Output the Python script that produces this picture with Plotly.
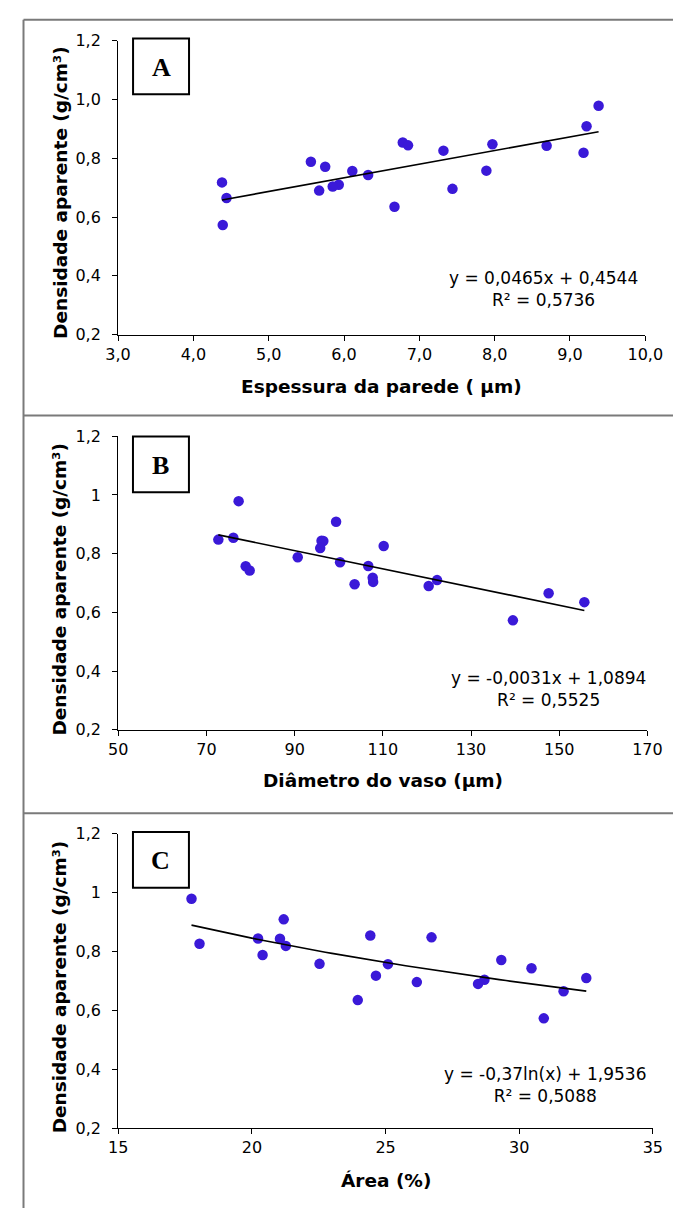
import numpy as np
import plotly.graph_objects as go

W, H = 691, 1218

# ---- data (one entry per sample; same samples in all three panels) ----
density = [0.979, 0.909, 0.854, 0.848, 0.844, 0.843, 0.826, 0.819, 0.788, 0.771, 0.758,
           0.757, 0.743, 0.718, 0.710, 0.704, 0.696, 0.690, 0.665, 0.635, 0.573]
wall_thickness = [9.38, 9.22, 6.78, 7.97, 6.85, 8.69, 7.32, 9.18, 5.56, 5.75, 7.89,
                  6.11, 6.32, 4.38, 5.93, 5.85, 7.44, 5.67, 4.44, 6.67, 4.39]
vessel_diameter = [77.3, 99.4, 76.1, 72.7, 96.1, 96.5, 110.2, 95.8, 90.7, 100.3, 106.7,
                   78.9, 79.8, 107.7, 122.3, 107.8, 103.6, 120.4, 147.6, 155.7, 139.5]
vessel_area = [17.74, 21.19, 24.43, 26.72, 20.23, 21.05, 18.04, 21.27, 20.40, 29.33, 22.53,
               25.09, 30.46, 24.64, 32.51, 28.70, 26.17, 28.46, 31.66, 23.96, 30.92]

# trendline coefficients as printed on the chart
fit_a = (0.0465, 0.4544)      # linear
fit_b = (-0.0031, 1.0894)     # linear
fit_c = (-0.37, 1.9536)       # logarithmic

eq_a = "y = 0,0465x + 0,4544<br>R² = 0,5736"
eq_b = "y = -0,0031x + 1,0894<br>R² = 0,5525"
eq_c = "y = -0,37ln(x) + 1,9536<br>R² = 0,5088"

y_vals = [0.2, 0.4, 0.6, 0.8, 1.0, 1.2]
y_text_a = ["0,2", "0,4", "0,6", "0,8", "1,0", "1,2"]
y_text_bc = ["0,2", "0,4", "0,6", "0,8", "1", "1,2"]
x_vals_a = [3, 4, 5, 6, 7, 8, 9, 10]
x_text_a = ["3,0", "4,0", "5,0", "6,0", "7,0", "8,0", "9,0", "10,0"]
x_vals_b = [50, 70, 90, 110, 130, 150, 170]
x_vals_c = [15, 20, 25, 30, 35]

x_title_a = "Espessura da parede ( µm)"
x_title_b = "Diâmetro do vaso (µm)"
x_title_c = "Área (%)"
y_title = "Densidade aparente (g/cm³)"
panel_labels = ["A", "B", "C"]

# ---- styling ----
PT_COLOR = "#3A19D8"
TICK_FONT = dict(family="DejaVu Sans", size=16, color="black")
TITLE_FONT = dict(family="DejaVu Sans", size=18.5, color="black")
EQ_FONT = dict(family="DejaVu Sans", size=17, color="black")


def fx(px):
    return px / W


def fy(py):
    return 1 - py / H


fig = go.Figure()

panels = [
    dict(x=wall_thickness, fit=fit_a, kind="lin", xr=[3, 10], xt=x_vals_a, xtt=x_text_a,
         ytt=y_text_a, xdom=(110, 662), ydom=(330.7, 32.3), eq=eq_a, eqpos=(555, 284),
         xtitle=x_title_a, xtpos=(386, 383), ytpos=(49, 186), box=(125.7, 30, 184.3, 86.7)),
    dict(x=vessel_diameter, fit=fit_b, kind="lin", xr=[50, 170], xt=x_vals_b,
         xtt=[str(v) for v in x_vals_b], ytt=y_text_bc, xdom=(110.2, 664.2), ydom=(732.3, 434),
         eq=eq_b, eqpos=(561, 691), xtitle=x_title_b, xtpos=(387, 784), ytpos=(49, 589),
         box=(125.6, 434.3, 184.2, 491)),
    dict(x=vessel_area, fit=fit_c, kind="log", xr=[15, 35], xt=x_vals_c,
         xtt=[str(v) for v in x_vals_c], ytt=y_text_bc, xdom=(110.2, 669.9), ydom=(1137, 837.7),
         eq=eq_c, eqpos=(557, 1093), xtitle=x_title_c, xtpos=(390, 1190), ytpos=(49, 993),
         box=(125.6, 836, 184.2, 892.7)),
]

annotations = []
shapes = []

for i, p in enumerate(panels):
    n = "" if i == 0 else str(i + 1)
    xa, ya = "x" + n, "y" + n
    fig.add_trace(go.Scatter(x=p["x"], y=density, mode="markers", xaxis=xa, yaxis=ya,
                             marker=dict(color=PT_COLOR, size=10.5, line=dict(width=0)),
                             showlegend=False, hoverinfo="x+y"))
    xmin, xmax = min(p["x"]), max(p["x"])
    a, b = p["fit"]
    if p["kind"] == "lin":
        tx = np.array([xmin, xmax])
        ty = a * tx + b
    else:
        tx = np.linspace(xmin, xmax, 60)
        ty = a * np.log(tx) + b
    fig.add_trace(go.Scatter(x=tx, y=ty, mode="lines", xaxis=xa, yaxis=ya,
                             line=dict(color="black", width=1.6), showlegend=False,
                             hoverinfo="skip"))

    common = dict(showgrid=False, zeroline=False, showline=True, linecolor="black",
                  linewidth=1, ticks="outside", ticklen=5, tickwidth=1, tickcolor="black",
                  tickfont=TICK_FONT, mirror=False)
    fig.layout["xaxis" + n] = dict(domain=[fx(p["xdom"][0]), fx(p["xdom"][1])],
                                   range=p["xr"], tickmode="array", tickvals=p["xt"],
                                   ticktext=p["xtt"], anchor=ya, **common)
    fig.layout["yaxis" + n] = dict(domain=[fy(p["ydom"][0]), fy(p["ydom"][1])],
                                   range=[0.2, 1.2], tickmode="array", tickvals=y_vals,
                                   ticktext=p["ytt"], anchor=xa, ticklabelstandoff=8,
                                   **common)

    annotations.append(dict(x=fx(p["eqpos"][0]), y=fy(p["eqpos"][1]), xref="paper",
                            yref="paper", text=p["eq"], showarrow=False, align="center",
                            font=EQ_FONT, xanchor="center", yanchor="middle"))
    annotations.append(dict(x=fx(p["xtpos"][0]), y=fy(p["xtpos"][1]), xref="paper",
                            yref="paper", text="<b>" + p["xtitle"] + "</b>", showarrow=False,
                            font=TITLE_FONT, xanchor="center", yanchor="middle"))
    annotations.append(dict(x=fx(p["ytpos"][0]), y=fy(p["ytpos"][1]), xref="paper",
                            yref="paper", text="<b>" + y_title + "</b>", showarrow=False,
                            font=TITLE_FONT, textangle=-90, xanchor="center",
                            yanchor="middle"))
    bx0, by0, bx1, by1 = p["box"]
    shapes.append(dict(type="rect", xref="paper", yref="paper", x0=fx(bx0), x1=fx(bx1),
                       y0=fy(by1), y1=fy(by0), line=dict(color="black", width=2),
                       fillcolor="white"))
    annotations.append(dict(x=fx((bx0 + bx1) / 2), y=fy((by0 + by1) / 2 + 1), xref="paper",
                            yref="paper", text="<b>" + panel_labels[i] + "</b>",
                            showarrow=False, xanchor="center", yanchor="middle",
                            font=dict(family="Liberation Serif", size=26, color="black")))

# panel frame lines
BORDER = dict(color="#7a7a7a", width=2)
shapes.append(dict(type="line", xref="paper", yref="paper", x0=fx(11), x1=fx(11),
                   y0=fy(11), y1=0, line=BORDER))
for yy in (11, 413, 817):
    shapes.append(dict(type="line", xref="paper", yref="paper", x0=fx(11), x1=1,
                       y0=fy(yy), y1=fy(yy), line=BORDER))

fig.update_layout(width=W, height=H, autosize=False,
                  margin=dict(l=0, r=0, t=0, b=0, pad=0),
                  paper_bgcolor="white", plot_bgcolor="white",
                  annotations=annotations, shapes=shapes, showlegend=False)

fig.write_html("out.html", config={"displayModeBar": False},
               post_script="document.body.style.margin='0px';"
                           "document.body.style.overflow='hidden';")
